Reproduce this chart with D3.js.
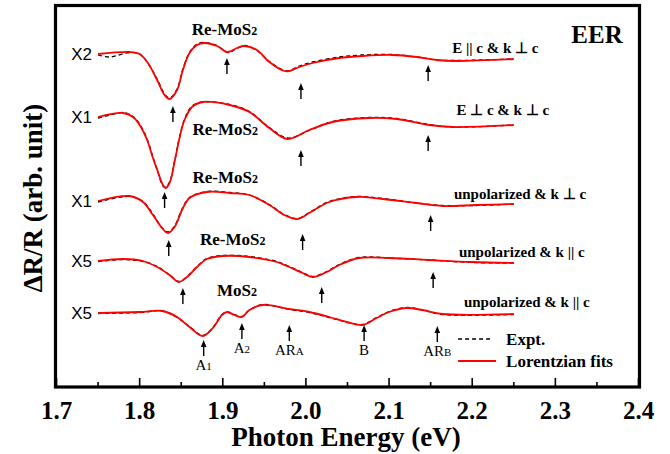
<!DOCTYPE html>
<html>
<head>
<meta charset="utf-8">
<script src="https://cdn.jsdelivr.net/npm/d3@7"></script>
<style>
  body { margin: 0; background: #fff; }
  svg { display: block; }
</style>
</head>
<body>
<svg id="chart" width="670" height="454"></svg>
<script>
// ---- axis ticks ----
const energyTicks = [1.7, 1.8, 1.9, 2.0, 2.1, 2.2, 2.3, 2.4];
const energyTickLabels = ["1.7", "1.8", "1.9", "2.0", "2.1", "2.2", "2.3", "2.4"];
const minorTicks = [1.75, 1.85, 1.95, 2.05, 2.15, 2.25, 2.35];

// ---- spectra: vertical offset (arb. unit) and labels ----
const offsets = [33.2, 26.9, 18.5, 12.5, 7.3];
const multipliers = ["X2", "X1", "X1", "X5", "X5"];
const samples = ["Re-MoS", "Re-MoS", "Re-MoS", "Re-MoS", "MoS"];
const geometries = ["E || c & k \u22A5 c", "E \u22A5 c & k \u22A5 c", "unpolarized & k \u22A5 c",
                    "unpolarized & k || c", "unpolarized & k || c"];
// anchor of each sample label [energy, level] and geometry label [energy, level]
const sampleAnchors = [[1.902, 35.1], [1.903, 25.1], [1.903, 20.3], [1.912, 14.1], [1.917, 9.0]];
const geometryAnchors = [[2.176, 33.3], [2.181, 27.1], [2.178, 18.7], [2.184, 12.9], [2.190, 7.9]];

// ---- Lorentzian fits: [photon energy (eV), ΔR/R (arb. unit)] ----
const fit1 = [[1.750,0],[1.788,0.2],[1.800,0],[1.810,-0.9],[1.821,-2.6],[1.830,-4.1],[1.836,-4.5],
  [1.845,-3.6],[1.852,-1.6],[1.860,0.1],[1.869,0.9],[1.878,1.1],[1.893,0.8],[1.906,0.2],[1.917,0.6],
  [1.926,0.8],[1.941,0.4],[1.956,-0.8],[1.974,-1.7],[1.980,-1.7],[1.992,-1.3],[2.008,-0.9],[2.040,-0.4],
  [2.068,-0.2],[2.104,-0.1],[2.133,-0.3],[2.157,-0.6],[2.181,-0.7],[2.250,-0.5]];
const fit2 = [[1.750,0],[1.780,0.4],[1.792,0],[1.800,-0.8],[1.809,-2.3],[1.816,-4.1],[1.822,-5.5],
  [1.828,-6.8],[1.831,-7.1],[1.836,-6.6],[1.842,-4.5],[1.848,-2.1],[1.854,-0.3],[1.863,1.0],[1.876,1.5],
  [1.908,1.2],[1.932,0.5],[1.956,-1.1],[1.978,-2.2],[2.004,-1.3],[2.032,-0.5],[2.076,-0.1],[2.109,-0.2],
  [2.148,-0.8],[2.176,-1.0],[2.250,-0.8]];
const fit3 = [[1.750,0],[1.788,0.5],[1.804,-0.1],[1.816,-1.4],[1.827,-2.7],[1.834,-3.2],[1.842,-2.6],
  [1.851,-0.9],[1.860,0.3],[1.881,0.9],[1.908,0.8],[1.932,0.6],[1.956,-0.4],[1.974,-1.4],[1.990,-1.8],
  [2.004,-1.2],[2.028,-0.1],[2.061,0.4],[2.092,0.2],[2.133,-0.2],[2.164,-0.5],[2.205,-0.4],[2.250,-0.3]];
const fit4 = [[1.750,0],[1.780,0.2],[1.804,0],[1.821,-0.6],[1.836,-1.4],[1.847,-2.1],[1.857,-1.6],
  [1.869,-0.6],[1.881,0.2],[1.900,0.5],[1.932,0.4],[1.965,-0.1],[1.980,-0.6],[1.996,-1.2],[2.008,-1.6],
  [2.025,-1.1],[2.040,-0.4],[2.064,0.3],[2.100,0.3],[2.148,0.1],[2.200,-0.1],[2.250,-0.2]];
const fit5 = [[1.750,0],[1.800,0.1],[1.827,0.2],[1.845,-0.4],[1.860,-1.4],[1.876,-2.3],[1.888,-1.5],
  [1.899,-0.2],[1.905,0.1],[1.914,-0.2],[1.923,-0.4],[1.932,0.3],[1.948,0.8],[1.980,0.4],[2.004,0.1],
  [2.028,-0.4],[2.049,-0.9],[2.068,-1.2],[2.085,-0.5],[2.100,0.1],[2.121,0.5],[2.140,0.3],[2.164,-0.1],
  [2.250,-0.1]];

// ---- measured EER spectra ----
const expt1 = [[1.750,-0.1],[1.764,-0.3],[1.788,0.15],[1.800,0],[1.810,-0.95],[1.821,-2.5],[1.830,-4.0],
  [1.836,-4.4],[1.845,-3.5],[1.852,-1.5],[1.860,0.15],[1.869,1.0],[1.878,1.15],[1.893,0.85],[1.906,0.15],
  [1.917,0.55],[1.926,0.85],[1.941,0.35],[1.956,-0.75],[1.974,-1.65],[1.980,-1.65],[1.992,-1.2],
  [2.008,-0.8],[2.040,-0.3],[2.068,-0.1],[2.104,-0.05],[2.133,-0.3],[2.157,-0.6],[2.181,-0.65],[2.250,-0.5]];
const expt2 = [[1.750,-0.1],[1.765,0.2],[1.780,0.45],[1.792,0.05],[1.800,-0.7],[1.809,-2.2],[1.816,-4.0],
  [1.822,-5.5],[1.828,-6.9],[1.831,-7.0],[1.836,-6.5],[1.842,-4.4],[1.848,-2.0],[1.854,-0.2],[1.863,1.1],
  [1.876,1.5],[1.908,1.25],[1.932,0.55],[1.956,-1.05],[1.978,-2.1],[2.004,-1.35],[2.032,-0.45],
  [2.076,-0.05],[2.109,-0.15],[2.148,-0.75],[2.176,-1.0],[2.250,-0.8]];
const expt3 = [[1.750,-0.1],[1.788,0.45],[1.804,-0.05],[1.816,-1.3],[1.827,-2.7],[1.834,-3.1],[1.842,-2.5],
  [1.851,-0.8],[1.860,0.35],[1.881,0.95],[1.908,0.85],[1.932,0.6],[1.956,-0.35],[1.974,-1.35],[1.990,-1.75],
  [2.004,-1.15],[2.028,-0.05],[2.061,0.45],[2.092,0.25],[2.133,-0.2],[2.164,-0.45],[2.205,-0.45],[2.250,-0.3]];
const expt4 = [[1.750,-0.05],[1.780,0.15],[1.804,-0.05],[1.821,-0.55],[1.836,-1.4],[1.847,-2.05],
  [1.857,-1.55],[1.869,-0.55],[1.881,0.25],[1.900,0.55],[1.932,0.45],[1.965,-0.05],[1.980,-0.55],
  [1.996,-1.15],[2.008,-1.55],[2.025,-1.05],[2.040,-0.35],[2.064,0.35],[2.100,0.3],[2.148,0.1],
  [2.200,-0.15],[2.250,-0.2]];
const expt5 = [[1.750,-0.05],[1.800,0.05],[1.827,0.2],[1.845,-0.45],[1.860,-1.35],[1.876,-2.25],[1.888,-1.45],
  [1.899,-0.15],[1.905,0.1],[1.914,-0.15],[1.923,-0.35],[1.932,0.3],[1.948,0.85],[1.980,0.35],[2.004,0.05],
  [2.028,-0.45],[2.049,-0.9],[2.068,-1.15],[2.085,-0.45],[2.100,0.15],[2.121,0.55],[2.140,0.3],[2.164,-0.15],
  [2.250,-0.15]];

const fits = [fit1, fit2, fit3, fit4, fit5];
const expts = [expt1, expt2, expt3, expt4, expt5];

// ---- critical-point markers: energy and arrow-tip level per spectrum ----
const arrowEnergies = [[1.840, 1.905, 1.994, 2.147], [1.830, 1.994, 2.147], [1.835, 1.996, 2.150],
                       [1.852, 2.019, 2.153], [1.877, 1.923, 1.980, 2.070, 2.158]];
const arrowTips = [[-5.2, -0.4, -2.9, -1.1], [-7.5, -3.3, -1.8], [-3.9, -3.3, -1.4],
                   [-2.7, -2.6, -1.1], [-2.7, -1.0, -1.2, -1.2, -1.3]];
// transition names under the MoS2 markers: [main, subscript]
const transitions = [["A", "1"], ["A", "2"], ["AR", "A"], ["B", ""], ["AR", "B"]];

// ---- layout ----
const svg = d3.select("#chart");
const serif = "'Liberation Serif', 'Times New Roman', serif";
const sans = "'Liberation Sans', Arial, sans-serif";

const x = d3.scaleLinear().domain([1.7, 2.4]).range([56.5, 638.5]);
const y = d3.scaleLinear().domain([0, 38]).range([386, 6]);

const line = d3.line().x(d => x(d[0])).y(d => y(d[1])).curve(d3.curveCatmullRom.alpha(0.5));

// spectra
fits.forEach((fit, i) => {
  const off = offsets[i];
  svg.append("path")
    .datum(expts[i].map(d => [d[0], d[1] + off]))
    .attr("d", line).attr("fill", "none")
    .attr("stroke", "#000").attr("stroke-width", 1.3).attr("stroke-dasharray", "4,3");
  svg.append("path")
    .datum(fit.map(d => [d[0], d[1] + off]))
    .attr("d", line).attr("fill", "none")
    .attr("stroke", "#ff0000").attr("stroke-width", 1.8);

  // multiplier at the left end of each spectrum
  svg.append("text")
    .attr("x", x(fit[0][0]) - 6).attr("y", y(off + fit[0][1])).attr("dy", "0.36em")
    .attr("text-anchor", "end").attr("font-family", sans).attr("font-size", 17)
    .text(multipliers[i]);

  // sample name with subscript
  const s = svg.append("text")
    .attr("x", x(sampleAnchors[i][0])).attr("y", y(sampleAnchors[i][1]))
    .attr("text-anchor", "middle").attr("font-family", serif)
    .attr("font-weight", "bold").attr("font-size", 17);
  s.append("tspan").text(samples[i]);
  s.append("tspan").attr("font-size", 12).text("2");

  // measurement geometry
  svg.append("text")
    .attr("x", x(geometryAnchors[i][0])).attr("y", y(geometryAnchors[i][1]))
    .attr("font-family", serif).attr("font-weight", "bold").attr("font-size", 15)
    .text(geometries[i]);

  // arrows marking transition energies
  arrowEnergies[i].forEach((e, j) => {
    const ax = x(e), ay = y(off + arrowTips[i][j]);
    svg.append("line").attr("x1", ax).attr("x2", ax).attr("y1", ay + 4).attr("y2", ay + 16)
      .attr("stroke", "#000").attr("stroke-width", 1.4);
    svg.append("path")
      .attr("d", `M${ax},${ay} L${ax - 2.8},${ay + 7} L${ax + 2.8},${ay + 7} Z`)
      .attr("fill", "#000");
    if (i === 4) {
      const t = svg.append("text").attr("x", ax).attr("y", ay + 30)
        .attr("text-anchor", "middle").attr("font-family", serif).attr("font-size", 15);
      t.append("tspan").text(transitions[j][0]);
      if (transitions[j][1]) t.append("tspan").attr("font-size", 11).text(transitions[j][1]);
    }
  });
});

// "EER" tag
svg.append("text").attr("x", x(2.381)).attr("y", y(34.3)).attr("text-anchor", "end")
  .attr("font-family", serif).attr("font-weight", "bold").attr("font-size", 25).text("EER");

// legend
const legX = x(2.183);
svg.append("line").attr("x1", legX).attr("x2", legX + 34).attr("y1", 339).attr("y2", 339)
  .attr("stroke", "#000").attr("stroke-width", 1.3).attr("stroke-dasharray", "4,3");
svg.append("line").attr("x1", legX).attr("x2", legX + 38).attr("y1", 361).attr("y2", 361)
  .attr("stroke", "#ff0000").attr("stroke-width", 1.8);
svg.append("text").attr("x", legX + 48).attr("y", 345).attr("font-family", serif)
  .attr("font-weight", "bold").attr("font-size", 17).text("Expt.");
svg.append("text").attr("x", legX + 48).attr("y", 367).attr("font-family", serif)
  .attr("font-weight", "bold").attr("font-size", 17).text("Lorentzian fits");

// x ticks (inward, bottom edge)
svg.selectAll(".major").data(energyTicks).enter().append("line")
  .attr("x1", d => x(d)).attr("x2", d => x(d)).attr("y1", 386).attr("y2", 378)
  .attr("stroke", "#000").attr("stroke-width", 1.6);
svg.selectAll(".minor").data(minorTicks).enter().append("line")
  .attr("x1", d => x(d)).attr("x2", d => x(d)).attr("y1", 386).attr("y2", 382)
  .attr("stroke", "#000").attr("stroke-width", 1.6);
svg.selectAll(".ticklab").data(energyTicks).enter().append("text")
  .attr("x", d => x(d)).attr("y", 419).attr("text-anchor", "middle")
  .attr("font-family", serif).attr("font-weight", "bold").attr("font-size", 25)
  .text((d, i) => energyTickLabels[i]);

// frame
svg.append("rect").attr("x", 55.5).attr("y", 5.5).attr("width", 584).attr("height", 381.5)
  .attr("fill", "none").attr("stroke", "#000").attr("stroke-width", 3.2);

// axis titles
svg.append("text").attr("x", 346).attr("y", 446).attr("text-anchor", "middle")
  .attr("font-family", serif).attr("font-weight", "bold").attr("font-size", 27)
  .text("Photon Energy (eV)");
svg.append("text").attr("transform", "translate(42,198) rotate(-90)").attr("text-anchor", "middle")
  .attr("font-family", serif).attr("font-weight", "bold").attr("font-size", 27)
  .text("\u0394R/R (arb. unit)");
</script>
</body>
</html>
